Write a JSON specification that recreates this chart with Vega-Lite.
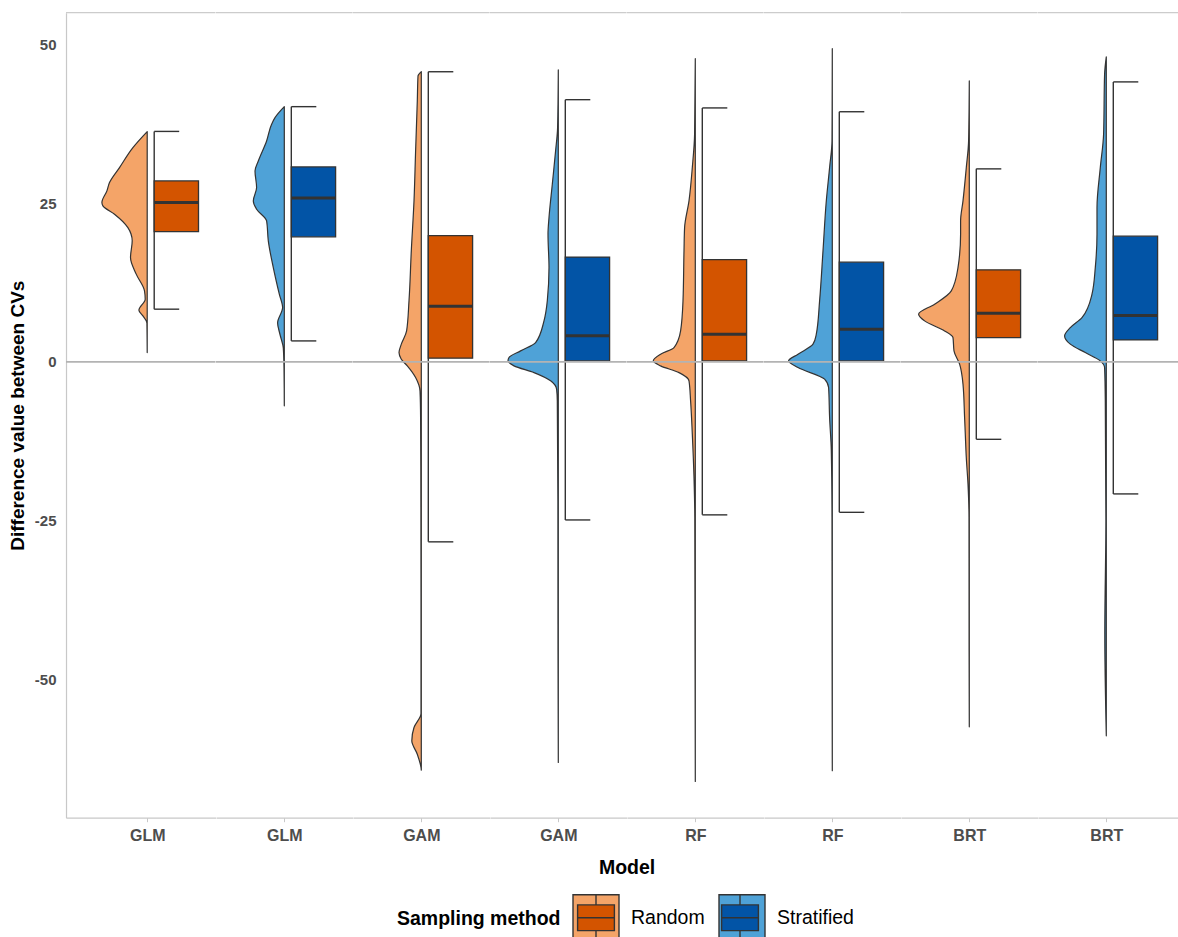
{
"$schema": "https://vega.github.io/schema/vega-lite/v6.json",
"autosize": {"type": "pad"},
"padding": {"left": 8, "top": 11.7, "right": 0, "bottom": 0},
"background": "white",
"spacing": 0,
"bounds": "flush",
"resolve": {"scale": {"x": "independent", "y": "independent", "color": "shared", "fill": "shared"}, "axis": {"x": "independent", "y": "independent"}},
"config": {"view": {"stroke": null}, "font": "Liberation Sans"},
"hconcat": [
{
 "width": 149.5, "height": 805,
 "data": {"values": [{"method": "Random", "lower": 8.3, "q1": 20.5, "med": 25.1, "q3": 28.5, "upper": 36.3}]},
 "layer": [
  {"data": {"values": [
    {"val": 36.27, "dens": 0, "method": "Random"},{"val": 33.75, "dens": 0.286, "method": "Random"},{"val": 30.6, "dens": 0.554, "method": "Random"},{"val": 28.24, "dens": 0.754, "method": "Random"},{"val": 26.93, "dens": 0.806, "method": "Random"},{"val": 25.09, "dens": 0.906, "method": "Random"},{"val": 24.57, "dens": 0.886, "method": "Random"},{"val": 23.26, "dens": 0.654, "method": "Random"},{"val": 21.15, "dens": 0.386, "method": "Random"},{"val": 19.06, "dens": 0.3, "method": "Random"},{"val": 16.43, "dens": 0.334, "method": "Random"},{"val": 13.82, "dens": 0.22, "method": "Random"},{"val": 11.18, "dens": 0.054, "method": "Random"},{"val": 9.87, "dens": 0.04, "method": "Random"},{"val": 8.14, "dens": 0.166, "method": "Random"},{"val": 7.24, "dens": 0.086, "method": "Random"},{"val": 6.14, "dens": 0.006, "method": "Random"},{"val": 1.46, "dens": 0, "method": "Random"}]},
   "mark": {"type": "area", "orient": "horizontal", "interpolate": "monotone", "stroke": "#333333", "strokeWidth": 1.2, "strokeJoin": "round"},
   "encoding": {
    "y": {"field": "val", "type": "quantitative", "scale": {"domain": [-71.8, 55], "nice": false, "zero": false},
      "axis": {"values": [-50, -25, 0, 25, 50], "labelExpr": "'' + datum.value", "title": "Difference value between CVs", "titleFontSize": 19, "titleFontWeight": "bold", "titleColor": "#000000", "titlePadding": 7, "labelFontSize": 15, "labelFontWeight": "bold", "labelColor": "#4d4d4d", "labelPadding": 10, "ticks": false, "domainColor": "#c8c8c8", "domainWidth": 1.2, "grid": false}},
    "x": {"field": "dens", "type": "quantitative", "scale": {"domain": [-1.366, 1.624], "reverse": true, "nice": false, "zero": false},
      "axis": {"values": [0], "labelExpr": "'GLM'", "title": null, "domainColor": "#c8c8c8", "domainWidth": 1.2, "tickColor": "#c8c8c8", "tickSize": 4, "labelFontSize": 16, "labelFontWeight": "bold", "labelColor": "#4d4d4d", "labelPadding": 6, "grid": false}},
    "x2": {"datum": 0},
    "color": {"field": "method", "type": "nominal", "scale": {"domain": ["Random", "Stratified"], "range": ["#F4A468", "#4FA2D7"]},
      "legend": {"title": "Sampling method", "orient": "none", "legendX": 331, "legendY": 881, "direction": "horizontal", "titleOrient": "left", "titleFontSize": 19.5, "titleFontWeight": "bold", "titleColor": "#000000", "titlePadding": 11, "titleBaseline": "middle", "labelFontSize": 19.5, "labelColor": "#000000", "labelOffset": 11, "columnPadding": 11, "symbolType": "square", "symbolSize": 2116, "symbolStrokeColor": "#333333", "symbolStrokeWidth": 1.4, "symbolOpacity": 1, "zindex": 1}}
   }},
  {"mark": {"type": "rule", "stroke": "#333333", "strokeWidth": 1.4},
   "encoding": {"x": {"datum": -0.14, "type": "quantitative", "scale": {"domain": [-1.366, 1.624], "reverse": true, "nice": false, "zero": false}},
     "y": {"field": "lower", "type": "quantitative", "scale": {"domain": [-71.8, 55], "nice": false, "zero": false}}, "y2": {"field": "upper"}}},
  {"mark": {"type": "rule", "stroke": "#333333", "strokeWidth": 1.4},
   "encoding": {"x": {"datum": -0.14, "type": "quantitative", "scale": {"domain": [-1.366, 1.624], "reverse": true, "nice": false, "zero": false}}, "x2": {"datum": -0.64},
     "y": {"field": "upper", "type": "quantitative", "scale": {"domain": [-71.8, 55], "nice": false, "zero": false}}}},
  {"mark": {"type": "rule", "stroke": "#333333", "strokeWidth": 1.4},
   "encoding": {"x": {"datum": -0.14, "type": "quantitative", "scale": {"domain": [-1.366, 1.624], "reverse": true, "nice": false, "zero": false}}, "x2": {"datum": -0.64},
     "y": {"field": "lower", "type": "quantitative", "scale": {"domain": [-71.8, 55], "nice": false, "zero": false}}}},
  {"mark": {"type": "rect", "stroke": "#333333", "strokeWidth": 1.3},
   "encoding": {"x": {"datum": -0.14, "type": "quantitative", "scale": {"domain": [-1.366, 1.624], "reverse": true, "nice": false, "zero": false}}, "x2": {"datum": -1.026},
     "y": {"field": "q1", "type": "quantitative", "scale": {"domain": [-71.8, 55], "nice": false, "zero": false}}, "y2": {"field": "q3"},
     "fill": {"field": "method", "type": "nominal", "scale": {"range": ["#D35400", "#0254A6"]},
       "legend": {"title": "Sampling method", "orient": "none", "legendX": 331, "legendY": 881, "direction": "horizontal", "titleOrient": "left", "titleFontSize": 19.5, "titleFontWeight": "bold", "titleColor": "#000000", "titlePadding": 11, "titleBaseline": "middle", "titleOpacity": 0, "labelFontSize": 19.5, "labelColor": "#000000", "labelOpacity": 0, "labelOffset": 11, "columnPadding": 11, "symbolType": "M-0.8,-0.56H0.8V0.56H-0.8Z M-0.8,0H0.8 M0,-1V-0.56 M0,0.56V1", "symbolSize": 2116, "symbolStrokeColor": "#333333", "symbolStrokeWidth": 1.4, "symbolOpacity": 1, "zindex": 2}}}},
  {"mark": {"type": "rule", "stroke": "#333333", "strokeWidth": 3},
   "encoding": {"x": {"datum": -0.14, "type": "quantitative", "scale": {"domain": [-1.366, 1.624], "reverse": true, "nice": false, "zero": false}}, "x2": {"datum": -1.026},
     "y": {"field": "med", "type": "quantitative", "scale": {"domain": [-71.8, 55], "nice": false, "zero": false}}}},
  {"mark": {"type": "rule", "stroke": "#b3b3b3", "strokeWidth": 1.6},
   "encoding": {"y": {"datum": 0, "type": "quantitative", "scale": {"domain": [-71.8, 55], "nice": false, "zero": false}}}},
  {"mark": {"type": "rule", "stroke": "#cccccc", "strokeWidth": 1.2},
   "encoding": {"y": {"datum": 55, "type": "quantitative", "scale": {"domain": [-71.8, 55], "nice": false, "zero": false}}}}
 ]
},
{
 "width": 136.6, "height": 805,
 "data": {"values": [{"method": "Stratified", "lower": 3.3, "q1": 19.7, "med": 25.8, "q3": 30.7, "upper": 40.2}]},
 "layer": [
  {"data": {"values": [
    {"val": 40.2, "dens": 0, "method": "Stratified"},{"val": 38.47, "dens": 0.186, "method": "Stratified"},{"val": 37.43, "dens": 0.254, "method": "Stratified"},{"val": 34.8, "dens": 0.354, "method": "Stratified"},{"val": 31.65, "dens": 0.52, "method": "Stratified"},{"val": 30.08, "dens": 0.586, "method": "Stratified"},{"val": 27.45, "dens": 0.554, "method": "Stratified"},{"val": 25.35, "dens": 0.62, "method": "Stratified"},{"val": 24.05, "dens": 0.554, "method": "Stratified"},{"val": 22.2, "dens": 0.354, "method": "Stratified"},{"val": 19.06, "dens": 0.32, "method": "Stratified"},{"val": 14.85, "dens": 0.22, "method": "Stratified"},{"val": 10.66, "dens": 0.1, "method": "Stratified"},{"val": 8.55, "dens": 0.034, "method": "Stratified"},{"val": 6.14, "dens": 0.134, "method": "Stratified"},{"val": 4.31, "dens": 0.086, "method": "Stratified"},{"val": 2.2, "dens": 0.02, "method": "Stratified"},{"val": -0.9, "dens": 0.006, "method": "Stratified"},{"val": -6.93, "dens": 0, "method": "Stratified"}]},
   "mark": {"type": "area", "orient": "horizontal", "interpolate": "monotone", "stroke": "#333333", "strokeWidth": 1.2, "strokeJoin": "round"},
   "encoding": {
    "y": {"field": "val", "type": "quantitative", "scale": {"domain": [-71.8, 55], "nice": false, "zero": false}, "axis": null},
    "x": {"field": "dens", "type": "quantitative", "scale": {"domain": [-1.366, 1.366], "reverse": true, "nice": false, "zero": false},
      "axis": {"values": [0], "labelExpr": "'GLM'", "title": null, "domainColor": "#c8c8c8", "domainWidth": 1.2, "tickColor": "#c8c8c8", "tickSize": 4, "labelFontSize": 16, "labelFontWeight": "bold", "labelColor": "#4d4d4d", "labelPadding": 6, "grid": false}},
    "x2": {"datum": 0},
    "color": {"field": "method", "type": "nominal", "scale": {"domain": ["Random", "Stratified"], "range": ["#F4A468", "#4FA2D7"]}}
   }},
  {"mark": {"type": "rule", "stroke": "#333333", "strokeWidth": 1.4},
   "encoding": {"x": {"datum": -0.14, "type": "quantitative", "scale": {"domain": [-1.366, 1.366], "reverse": true, "nice": false, "zero": false}},
     "y": {"field": "lower", "type": "quantitative", "scale": {"domain": [-71.8, 55], "nice": false, "zero": false}}, "y2": {"field": "upper"}}},
  {"mark": {"type": "rule", "stroke": "#333333", "strokeWidth": 1.4},
   "encoding": {"x": {"datum": -0.14, "type": "quantitative", "scale": {"domain": [-1.366, 1.366], "reverse": true, "nice": false, "zero": false}}, "x2": {"datum": -0.64},
     "y": {"field": "upper", "type": "quantitative", "scale": {"domain": [-71.8, 55], "nice": false, "zero": false}}}},
  {"mark": {"type": "rule", "stroke": "#333333", "strokeWidth": 1.4},
   "encoding": {"x": {"datum": -0.14, "type": "quantitative", "scale": {"domain": [-1.366, 1.366], "reverse": true, "nice": false, "zero": false}}, "x2": {"datum": -0.64},
     "y": {"field": "lower", "type": "quantitative", "scale": {"domain": [-71.8, 55], "nice": false, "zero": false}}}},
  {"mark": {"type": "rect", "stroke": "#333333", "strokeWidth": 1.3},
   "encoding": {"x": {"datum": -0.14, "type": "quantitative", "scale": {"domain": [-1.366, 1.366], "reverse": true, "nice": false, "zero": false}}, "x2": {"datum": -1.026},
     "y": {"field": "q1", "type": "quantitative", "scale": {"domain": [-71.8, 55], "nice": false, "zero": false}}, "y2": {"field": "q3"},
     "fill": {"field": "method", "type": "nominal", "scale": {"range": ["#D35400", "#0254A6"]}}}},
  {"mark": {"type": "rule", "stroke": "#333333", "strokeWidth": 3},
   "encoding": {"x": {"datum": -0.14, "type": "quantitative", "scale": {"domain": [-1.366, 1.366], "reverse": true, "nice": false, "zero": false}}, "x2": {"datum": -1.026},
     "y": {"field": "med", "type": "quantitative", "scale": {"domain": [-71.8, 55], "nice": false, "zero": false}}}},
  {"mark": {"type": "rule", "stroke": "#b3b3b3", "strokeWidth": 1.6},
   "encoding": {"y": {"datum": 0, "type": "quantitative", "scale": {"domain": [-71.8, 55], "nice": false, "zero": false}}}},
  {"mark": {"type": "rule", "stroke": "#cccccc", "strokeWidth": 1.2},
   "encoding": {"y": {"datum": 55, "type": "quantitative", "scale": {"domain": [-71.8, 55], "nice": false, "zero": false}}}}
 ]
},
{
 "width": 136.6, "height": 805,
 "data": {"values": [{"method": "Random", "lower": -28.35, "q1": 0.58, "med": 8.77, "q3": 19.9, "upper": 45.7}]},
 "layer": [
  {"data": {"values": [
    {"val": 45.72, "dens": 0, "method": "Random"},{"val": 45.04, "dens": 0.066, "method": "Random"},{"val": 41.1, "dens": 0.08, "method": "Random"},{"val": 33.23, "dens": 0.114, "method": "Random"},{"val": 25.35, "dens": 0.146, "method": "Random"},{"val": 17.48, "dens": 0.2, "method": "Random"},{"val": 9.61, "dens": 0.246, "method": "Random"},{"val": 4.88, "dens": 0.294, "method": "Random"},{"val": 2.79, "dens": 0.4, "method": "Random"},{"val": 1.46, "dens": 0.446, "method": "Random"},{"val": 0.42, "dens": 0.4, "method": "Random"},{"val": -0.63, "dens": 0.28, "method": "Random"},{"val": -2.47, "dens": 0.114, "method": "Random"},{"val": -4.57, "dens": 0.026, "method": "Random"},{"val": -8.77, "dens": 0.014, "method": "Random"},{"val": -21.9, "dens": 0.008, "method": "Random"},{"val": -37.6, "dens": 0.006, "method": "Random"},{"val": -55.4, "dens": 0.006, "method": "Random"},{"val": -57.6, "dens": 0.146, "method": "Random"},{"val": -59.7, "dens": 0.19, "method": "Random"},{"val": -61.8, "dens": 0.08, "method": "Random"},{"val": -63.9, "dens": 0.006, "method": "Random"},{"val": -64.3, "dens": 0, "method": "Random"}]},
   "mark": {"type": "area", "orient": "horizontal", "interpolate": "monotone", "stroke": "#333333", "strokeWidth": 1.2, "strokeJoin": "round"},
   "encoding": {
    "y": {"field": "val", "type": "quantitative", "scale": {"domain": [-71.8, 55], "nice": false, "zero": false}, "axis": null},
    "x": {"field": "dens", "type": "quantitative", "scale": {"domain": [-1.366, 1.366], "reverse": true, "nice": false, "zero": false},
      "axis": {"values": [0], "labelExpr": "'GAM'", "title": null, "domainColor": "#c8c8c8", "domainWidth": 1.2, "tickColor": "#c8c8c8", "tickSize": 4, "labelFontSize": 16, "labelFontWeight": "bold", "labelColor": "#4d4d4d", "labelPadding": 6, "grid": false}},
    "x2": {"datum": 0},
    "color": {"field": "method", "type": "nominal", "scale": {"domain": ["Random", "Stratified"], "range": ["#F4A468", "#4FA2D7"]}}
   }},
  {"mark": {"type": "rule", "stroke": "#333333", "strokeWidth": 1.4},
   "encoding": {"x": {"datum": -0.14, "type": "quantitative", "scale": {"domain": [-1.366, 1.366], "reverse": true, "nice": false, "zero": false}},
     "y": {"field": "lower", "type": "quantitative", "scale": {"domain": [-71.8, 55], "nice": false, "zero": false}}, "y2": {"field": "upper"}}},
  {"mark": {"type": "rule", "stroke": "#333333", "strokeWidth": 1.4},
   "encoding": {"x": {"datum": -0.14, "type": "quantitative", "scale": {"domain": [-1.366, 1.366], "reverse": true, "nice": false, "zero": false}}, "x2": {"datum": -0.64},
     "y": {"field": "upper", "type": "quantitative", "scale": {"domain": [-71.8, 55], "nice": false, "zero": false}}}},
  {"mark": {"type": "rule", "stroke": "#333333", "strokeWidth": 1.4},
   "encoding": {"x": {"datum": -0.14, "type": "quantitative", "scale": {"domain": [-1.366, 1.366], "reverse": true, "nice": false, "zero": false}}, "x2": {"datum": -0.64},
     "y": {"field": "lower", "type": "quantitative", "scale": {"domain": [-71.8, 55], "nice": false, "zero": false}}}},
  {"mark": {"type": "rect", "stroke": "#333333", "strokeWidth": 1.3},
   "encoding": {"x": {"datum": -0.14, "type": "quantitative", "scale": {"domain": [-1.366, 1.366], "reverse": true, "nice": false, "zero": false}}, "x2": {"datum": -1.026},
     "y": {"field": "q1", "type": "quantitative", "scale": {"domain": [-71.8, 55], "nice": false, "zero": false}}, "y2": {"field": "q3"},
     "fill": {"field": "method", "type": "nominal", "scale": {"range": ["#D35400", "#0254A6"]}}}},
  {"mark": {"type": "rule", "stroke": "#333333", "strokeWidth": 3},
   "encoding": {"x": {"datum": -0.14, "type": "quantitative", "scale": {"domain": [-1.366, 1.366], "reverse": true, "nice": false, "zero": false}}, "x2": {"datum": -1.026},
     "y": {"field": "med", "type": "quantitative", "scale": {"domain": [-71.8, 55], "nice": false, "zero": false}}}},
  {"mark": {"type": "rule", "stroke": "#b3b3b3", "strokeWidth": 1.6},
   "encoding": {"y": {"datum": 0, "type": "quantitative", "scale": {"domain": [-71.8, 55], "nice": false, "zero": false}}}},
  {"mark": {"type": "rule", "stroke": "#cccccc", "strokeWidth": 1.2},
   "encoding": {"y": {"datum": 55, "type": "quantitative", "scale": {"domain": [-71.8, 55], "nice": false, "zero": false}}}}
 ]
},
{
 "width": 136.6, "height": 805,
 "data": {"values": [{"method": "Stratified", "lower": -24.9, "q1": 0.16, "med": 4.1, "q3": 16.5, "upper": 41.3}]},
 "layer": [
  {"data": {"values": [
    {"val": 45.98, "dens": 0, "method": "Stratified"},{"val": 36.9, "dens": 0.014, "method": "Stratified"},{"val": 33.23, "dens": 0.054, "method": "Stratified"},{"val": 27.98, "dens": 0.12, "method": "Stratified"},{"val": 22.72, "dens": 0.186, "method": "Stratified"},{"val": 20.11, "dens": 0.206, "method": "Stratified"},{"val": 14.85, "dens": 0.186, "method": "Stratified"},{"val": 9.61, "dens": 0.22, "method": "Stratified"},{"val": 6.46, "dens": 0.286, "method": "Stratified"},{"val": 3.04, "dens": 0.454, "method": "Stratified"},{"val": 1.73, "dens": 0.754, "method": "Stratified"},{"val": 0.68, "dens": 0.986, "method": "Stratified"},{"val": 0.16, "dens": 1.006, "method": "Stratified"},{"val": -0.63, "dens": 0.886, "method": "Stratified"},{"val": -1.69, "dens": 0.486, "method": "Stratified"},{"val": -2.99, "dens": 0.154, "method": "Stratified"},{"val": -4.3, "dens": 0.034, "method": "Stratified"},{"val": -6.14, "dens": 0.02, "method": "Stratified"},{"val": -21.9, "dens": 0.008, "method": "Stratified"},{"val": -45.5, "dens": 0.006, "method": "Stratified"},{"val": -63.1, "dens": 0, "method": "Stratified"}]},
   "mark": {"type": "area", "orient": "horizontal", "interpolate": "monotone", "stroke": "#333333", "strokeWidth": 1.2, "strokeJoin": "round"},
   "encoding": {
    "y": {"field": "val", "type": "quantitative", "scale": {"domain": [-71.8, 55], "nice": false, "zero": false}, "axis": null},
    "x": {"field": "dens", "type": "quantitative", "scale": {"domain": [-1.366, 1.366], "reverse": true, "nice": false, "zero": false},
      "axis": {"values": [0], "labelExpr": "'GAM'", "title": "Model", "titleX": 136.6, "titleY": 56, "titleAlign": "center", "titleBaseline": "alphabetic", "titleFontSize": 19.5, "titleFontWeight": "bold", "titleColor": "#000000", "domainColor": "#c8c8c8", "domainWidth": 1.2, "tickColor": "#c8c8c8", "tickSize": 4, "labelFontSize": 16, "labelFontWeight": "bold", "labelColor": "#4d4d4d", "labelPadding": 6, "grid": false}},
    "x2": {"datum": 0},
    "color": {"field": "method", "type": "nominal", "scale": {"domain": ["Random", "Stratified"], "range": ["#F4A468", "#4FA2D7"]}}
   }},
  {"mark": {"type": "rule", "stroke": "#333333", "strokeWidth": 1.4},
   "encoding": {"x": {"datum": -0.14, "type": "quantitative", "scale": {"domain": [-1.366, 1.366], "reverse": true, "nice": false, "zero": false}},
     "y": {"field": "lower", "type": "quantitative", "scale": {"domain": [-71.8, 55], "nice": false, "zero": false}}, "y2": {"field": "upper"}}},
  {"mark": {"type": "rule", "stroke": "#333333", "strokeWidth": 1.4},
   "encoding": {"x": {"datum": -0.14, "type": "quantitative", "scale": {"domain": [-1.366, 1.366], "reverse": true, "nice": false, "zero": false}}, "x2": {"datum": -0.64},
     "y": {"field": "upper", "type": "quantitative", "scale": {"domain": [-71.8, 55], "nice": false, "zero": false}}}},
  {"mark": {"type": "rule", "stroke": "#333333", "strokeWidth": 1.4},
   "encoding": {"x": {"datum": -0.14, "type": "quantitative", "scale": {"domain": [-1.366, 1.366], "reverse": true, "nice": false, "zero": false}}, "x2": {"datum": -0.64},
     "y": {"field": "lower", "type": "quantitative", "scale": {"domain": [-71.8, 55], "nice": false, "zero": false}}}},
  {"mark": {"type": "rect", "stroke": "#333333", "strokeWidth": 1.3},
   "encoding": {"x": {"datum": -0.14, "type": "quantitative", "scale": {"domain": [-1.366, 1.366], "reverse": true, "nice": false, "zero": false}}, "x2": {"datum": -1.026},
     "y": {"field": "q1", "type": "quantitative", "scale": {"domain": [-71.8, 55], "nice": false, "zero": false}}, "y2": {"field": "q3"},
     "fill": {"field": "method", "type": "nominal", "scale": {"range": ["#D35400", "#0254A6"]}}}},
  {"mark": {"type": "rule", "stroke": "#333333", "strokeWidth": 3},
   "encoding": {"x": {"datum": -0.14, "type": "quantitative", "scale": {"domain": [-1.366, 1.366], "reverse": true, "nice": false, "zero": false}}, "x2": {"datum": -1.026},
     "y": {"field": "med", "type": "quantitative", "scale": {"domain": [-71.8, 55], "nice": false, "zero": false}}}},
  {"mark": {"type": "rule", "stroke": "#b3b3b3", "strokeWidth": 1.6},
   "encoding": {"y": {"datum": 0, "type": "quantitative", "scale": {"domain": [-71.8, 55], "nice": false, "zero": false}}}},
  {"mark": {"type": "rule", "stroke": "#cccccc", "strokeWidth": 1.2},
   "encoding": {"y": {"datum": 55, "type": "quantitative", "scale": {"domain": [-71.8, 55], "nice": false, "zero": false}}}}
 ]
},
{
 "width": 136.6, "height": 805,
 "data": {"values": [{"method": "Random", "lower": -24.1, "q1": 0.16, "med": 4.36, "q3": 16.1, "upper": 40.0}]},
 "layer": [
  {"data": {"values": [
    {"val": 47.76, "dens": 0, "method": "Random"},{"val": 35.86, "dens": 0.014, "method": "Random"},{"val": 30.6, "dens": 0.06, "method": "Random"},{"val": 25.35, "dens": 0.126, "method": "Random"},{"val": 21.15, "dens": 0.214, "method": "Random"},{"val": 17.48, "dens": 0.226, "method": "Random"},{"val": 9.61, "dens": 0.246, "method": "Random"},{"val": 4.88, "dens": 0.294, "method": "Random"},{"val": 2.25, "dens": 0.426, "method": "Random"},{"val": 1.21, "dens": 0.694, "method": "Random"},{"val": 0.16, "dens": 0.84, "method": "Random"},{"val": -0.63, "dens": 0.694, "method": "Random"},{"val": -1.69, "dens": 0.326, "method": "Random"},{"val": -2.99, "dens": 0.126, "method": "Random"},{"val": -6.14, "dens": 0.094, "method": "Random"},{"val": -11.34, "dens": 0.06, "method": "Random"},{"val": -18.2, "dens": 0.026, "method": "Random"},{"val": -24.5, "dens": 0.01, "method": "Random"},{"val": -45.5, "dens": 0.005, "method": "Random"},{"val": -66.1, "dens": 0, "method": "Random"}]},
   "mark": {"type": "area", "orient": "horizontal", "interpolate": "monotone", "stroke": "#333333", "strokeWidth": 1.2, "strokeJoin": "round"},
   "encoding": {
    "y": {"field": "val", "type": "quantitative", "scale": {"domain": [-71.8, 55], "nice": false, "zero": false}, "axis": null},
    "x": {"field": "dens", "type": "quantitative", "scale": {"domain": [-1.366, 1.366], "reverse": true, "nice": false, "zero": false},
      "axis": {"values": [0], "labelExpr": "'RF'", "title": null, "domainColor": "#c8c8c8", "domainWidth": 1.2, "tickColor": "#c8c8c8", "tickSize": 4, "labelFontSize": 16, "labelFontWeight": "bold", "labelColor": "#4d4d4d", "labelPadding": 6, "grid": false}},
    "x2": {"datum": 0},
    "color": {"field": "method", "type": "nominal", "scale": {"domain": ["Random", "Stratified"], "range": ["#F4A468", "#4FA2D7"]}}
   }},
  {"mark": {"type": "rule", "stroke": "#333333", "strokeWidth": 1.4},
   "encoding": {"x": {"datum": -0.14, "type": "quantitative", "scale": {"domain": [-1.366, 1.366], "reverse": true, "nice": false, "zero": false}},
     "y": {"field": "lower", "type": "quantitative", "scale": {"domain": [-71.8, 55], "nice": false, "zero": false}}, "y2": {"field": "upper"}}},
  {"mark": {"type": "rule", "stroke": "#333333", "strokeWidth": 1.4},
   "encoding": {"x": {"datum": -0.14, "type": "quantitative", "scale": {"domain": [-1.366, 1.366], "reverse": true, "nice": false, "zero": false}}, "x2": {"datum": -0.64},
     "y": {"field": "upper", "type": "quantitative", "scale": {"domain": [-71.8, 55], "nice": false, "zero": false}}}},
  {"mark": {"type": "rule", "stroke": "#333333", "strokeWidth": 1.4},
   "encoding": {"x": {"datum": -0.14, "type": "quantitative", "scale": {"domain": [-1.366, 1.366], "reverse": true, "nice": false, "zero": false}}, "x2": {"datum": -0.64},
     "y": {"field": "lower", "type": "quantitative", "scale": {"domain": [-71.8, 55], "nice": false, "zero": false}}}},
  {"mark": {"type": "rect", "stroke": "#333333", "strokeWidth": 1.3},
   "encoding": {"x": {"datum": -0.14, "type": "quantitative", "scale": {"domain": [-1.366, 1.366], "reverse": true, "nice": false, "zero": false}}, "x2": {"datum": -1.026},
     "y": {"field": "q1", "type": "quantitative", "scale": {"domain": [-71.8, 55], "nice": false, "zero": false}}, "y2": {"field": "q3"},
     "fill": {"field": "method", "type": "nominal", "scale": {"range": ["#D35400", "#0254A6"]}}}},
  {"mark": {"type": "rule", "stroke": "#333333", "strokeWidth": 3},
   "encoding": {"x": {"datum": -0.14, "type": "quantitative", "scale": {"domain": [-1.366, 1.366], "reverse": true, "nice": false, "zero": false}}, "x2": {"datum": -1.026},
     "y": {"field": "med", "type": "quantitative", "scale": {"domain": [-71.8, 55], "nice": false, "zero": false}}}},
  {"mark": {"type": "rule", "stroke": "#b3b3b3", "strokeWidth": 1.6},
   "encoding": {"y": {"datum": 0, "type": "quantitative", "scale": {"domain": [-71.8, 55], "nice": false, "zero": false}}}},
  {"mark": {"type": "rule", "stroke": "#cccccc", "strokeWidth": 1.2},
   "encoding": {"y": {"datum": 55, "type": "quantitative", "scale": {"domain": [-71.8, 55], "nice": false, "zero": false}}}}
 ]
},
{
 "width": 136.6, "height": 805,
 "data": {"values": [{"method": "Stratified", "lower": -23.7, "q1": 0.16, "med": 5.15, "q3": 15.7, "upper": 39.4}]},
 "layer": [
  {"data": {"values": [
    {"val": 49.34, "dens": 0, "method": "Stratified"},{"val": 34.8, "dens": 0.006, "method": "Stratified"},{"val": 30.6, "dens": 0.054, "method": "Stratified"},{"val": 25.35, "dens": 0.12, "method": "Stratified"},{"val": 17.48, "dens": 0.186, "method": "Stratified"},{"val": 9.61, "dens": 0.254, "method": "Stratified"},{"val": 4.36, "dens": 0.32, "method": "Stratified"},{"val": 2.79, "dens": 0.386, "method": "Stratified"},{"val": 1.21, "dens": 0.686, "method": "Stratified"},{"val": 0.16, "dens": 0.874, "method": "Stratified"},{"val": -0.9, "dens": 0.686, "method": "Stratified"},{"val": -2.72, "dens": 0.154, "method": "Stratified"},{"val": -4.05, "dens": 0.074, "method": "Stratified"},{"val": -8.77, "dens": 0.054, "method": "Stratified"},{"val": -14.0, "dens": 0.02, "method": "Stratified"},{"val": -24.5, "dens": 0.006, "method": "Stratified"},{"val": -45.5, "dens": 0.004, "method": "Stratified"},{"val": -64.4, "dens": 0, "method": "Stratified"}]},
   "mark": {"type": "area", "orient": "horizontal", "interpolate": "monotone", "stroke": "#333333", "strokeWidth": 1.2, "strokeJoin": "round"},
   "encoding": {
    "y": {"field": "val", "type": "quantitative", "scale": {"domain": [-71.8, 55], "nice": false, "zero": false}, "axis": null},
    "x": {"field": "dens", "type": "quantitative", "scale": {"domain": [-1.366, 1.366], "reverse": true, "nice": false, "zero": false},
      "axis": {"values": [0], "labelExpr": "'RF'", "title": null, "domainColor": "#c8c8c8", "domainWidth": 1.2, "tickColor": "#c8c8c8", "tickSize": 4, "labelFontSize": 16, "labelFontWeight": "bold", "labelColor": "#4d4d4d", "labelPadding": 6, "grid": false}},
    "x2": {"datum": 0},
    "color": {"field": "method", "type": "nominal", "scale": {"domain": ["Random", "Stratified"], "range": ["#F4A468", "#4FA2D7"]}}
   }},
  {"mark": {"type": "rule", "stroke": "#333333", "strokeWidth": 1.4},
   "encoding": {"x": {"datum": -0.14, "type": "quantitative", "scale": {"domain": [-1.366, 1.366], "reverse": true, "nice": false, "zero": false}},
     "y": {"field": "lower", "type": "quantitative", "scale": {"domain": [-71.8, 55], "nice": false, "zero": false}}, "y2": {"field": "upper"}}},
  {"mark": {"type": "rule", "stroke": "#333333", "strokeWidth": 1.4},
   "encoding": {"x": {"datum": -0.14, "type": "quantitative", "scale": {"domain": [-1.366, 1.366], "reverse": true, "nice": false, "zero": false}}, "x2": {"datum": -0.64},
     "y": {"field": "upper", "type": "quantitative", "scale": {"domain": [-71.8, 55], "nice": false, "zero": false}}}},
  {"mark": {"type": "rule", "stroke": "#333333", "strokeWidth": 1.4},
   "encoding": {"x": {"datum": -0.14, "type": "quantitative", "scale": {"domain": [-1.366, 1.366], "reverse": true, "nice": false, "zero": false}}, "x2": {"datum": -0.64},
     "y": {"field": "lower", "type": "quantitative", "scale": {"domain": [-71.8, 55], "nice": false, "zero": false}}}},
  {"mark": {"type": "rect", "stroke": "#333333", "strokeWidth": 1.3},
   "encoding": {"x": {"datum": -0.14, "type": "quantitative", "scale": {"domain": [-1.366, 1.366], "reverse": true, "nice": false, "zero": false}}, "x2": {"datum": -1.026},
     "y": {"field": "q1", "type": "quantitative", "scale": {"domain": [-71.8, 55], "nice": false, "zero": false}}, "y2": {"field": "q3"},
     "fill": {"field": "method", "type": "nominal", "scale": {"range": ["#D35400", "#0254A6"]}}}},
  {"mark": {"type": "rule", "stroke": "#333333", "strokeWidth": 3},
   "encoding": {"x": {"datum": -0.14, "type": "quantitative", "scale": {"domain": [-1.366, 1.366], "reverse": true, "nice": false, "zero": false}}, "x2": {"datum": -1.026},
     "y": {"field": "med", "type": "quantitative", "scale": {"domain": [-71.8, 55], "nice": false, "zero": false}}}},
  {"mark": {"type": "rule", "stroke": "#b3b3b3", "strokeWidth": 1.6},
   "encoding": {"y": {"datum": 0, "type": "quantitative", "scale": {"domain": [-71.8, 55], "nice": false, "zero": false}}}},
  {"mark": {"type": "rule", "stroke": "#cccccc", "strokeWidth": 1.2},
   "encoding": {"y": {"datum": 55, "type": "quantitative", "scale": {"domain": [-71.8, 55], "nice": false, "zero": false}}}}
 ]
},
{
 "width": 136.6, "height": 805,
 "data": {"values": [{"method": "Random", "lower": -12.2, "q1": 3.83, "med": 7.66, "q3": 14.5, "upper": 30.4}]},
 "layer": [
  {"data": {"values": [
    {"val": 44.25, "dens": 0, "method": "Random"},{"val": 34.8, "dens": 0.014, "method": "Random"},{"val": 30.6, "dens": 0.06, "method": "Random"},{"val": 25.35, "dens": 0.126, "method": "Random"},{"val": 22.2, "dens": 0.174, "method": "Random"},{"val": 20.11, "dens": 0.174, "method": "Random"},{"val": 14.85, "dens": 0.226, "method": "Random"},{"val": 11.18, "dens": 0.36, "method": "Random"},{"val": 9.08, "dens": 0.694, "method": "Random"},{"val": 7.51, "dens": 1.014, "method": "Random"},{"val": 6.46, "dens": 0.894, "method": "Random"},{"val": 4.88, "dens": 0.494, "method": "Random"},{"val": 3.83, "dens": 0.326, "method": "Random"},{"val": 1.73, "dens": 0.306, "method": "Random"},{"val": -0.36, "dens": 0.194, "method": "Random"},{"val": -3.51, "dens": 0.126, "method": "Random"},{"val": -8.77, "dens": 0.094, "method": "Random"},{"val": -11.39, "dens": 0.08, "method": "Random"},{"val": -15.07, "dens": 0.06, "method": "Random"},{"val": -19.26, "dens": 0.026, "method": "Random"},{"val": -24.5, "dens": 0.006, "method": "Random"},{"val": -45.5, "dens": 0.004, "method": "Random"},{"val": -57.48, "dens": 0, "method": "Random"}]},
   "mark": {"type": "area", "orient": "horizontal", "interpolate": "monotone", "stroke": "#333333", "strokeWidth": 1.2, "strokeJoin": "round"},
   "encoding": {
    "y": {"field": "val", "type": "quantitative", "scale": {"domain": [-71.8, 55], "nice": false, "zero": false}, "axis": null},
    "x": {"field": "dens", "type": "quantitative", "scale": {"domain": [-1.366, 1.366], "reverse": true, "nice": false, "zero": false},
      "axis": {"values": [0], "labelExpr": "'BRT'", "title": null, "domainColor": "#c8c8c8", "domainWidth": 1.2, "tickColor": "#c8c8c8", "tickSize": 4, "labelFontSize": 16, "labelFontWeight": "bold", "labelColor": "#4d4d4d", "labelPadding": 6, "grid": false}},
    "x2": {"datum": 0},
    "color": {"field": "method", "type": "nominal", "scale": {"domain": ["Random", "Stratified"], "range": ["#F4A468", "#4FA2D7"]}}
   }},
  {"mark": {"type": "rule", "stroke": "#333333", "strokeWidth": 1.4},
   "encoding": {"x": {"datum": -0.14, "type": "quantitative", "scale": {"domain": [-1.366, 1.366], "reverse": true, "nice": false, "zero": false}},
     "y": {"field": "lower", "type": "quantitative", "scale": {"domain": [-71.8, 55], "nice": false, "zero": false}}, "y2": {"field": "upper"}}},
  {"mark": {"type": "rule", "stroke": "#333333", "strokeWidth": 1.4},
   "encoding": {"x": {"datum": -0.14, "type": "quantitative", "scale": {"domain": [-1.366, 1.366], "reverse": true, "nice": false, "zero": false}}, "x2": {"datum": -0.64},
     "y": {"field": "upper", "type": "quantitative", "scale": {"domain": [-71.8, 55], "nice": false, "zero": false}}}},
  {"mark": {"type": "rule", "stroke": "#333333", "strokeWidth": 1.4},
   "encoding": {"x": {"datum": -0.14, "type": "quantitative", "scale": {"domain": [-1.366, 1.366], "reverse": true, "nice": false, "zero": false}}, "x2": {"datum": -0.64},
     "y": {"field": "lower", "type": "quantitative", "scale": {"domain": [-71.8, 55], "nice": false, "zero": false}}}},
  {"mark": {"type": "rect", "stroke": "#333333", "strokeWidth": 1.3},
   "encoding": {"x": {"datum": -0.14, "type": "quantitative", "scale": {"domain": [-1.366, 1.366], "reverse": true, "nice": false, "zero": false}}, "x2": {"datum": -1.026},
     "y": {"field": "q1", "type": "quantitative", "scale": {"domain": [-71.8, 55], "nice": false, "zero": false}}, "y2": {"field": "q3"},
     "fill": {"field": "method", "type": "nominal", "scale": {"range": ["#D35400", "#0254A6"]}}}},
  {"mark": {"type": "rule", "stroke": "#333333", "strokeWidth": 3},
   "encoding": {"x": {"datum": -0.14, "type": "quantitative", "scale": {"domain": [-1.366, 1.366], "reverse": true, "nice": false, "zero": false}}, "x2": {"datum": -1.026},
     "y": {"field": "med", "type": "quantitative", "scale": {"domain": [-71.8, 55], "nice": false, "zero": false}}}},
  {"mark": {"type": "rule", "stroke": "#b3b3b3", "strokeWidth": 1.6},
   "encoding": {"y": {"datum": 0, "type": "quantitative", "scale": {"domain": [-71.8, 55], "nice": false, "zero": false}}}},
  {"mark": {"type": "rule", "stroke": "#cccccc", "strokeWidth": 1.2},
   "encoding": {"y": {"datum": 55, "type": "quantitative", "scale": {"domain": [-71.8, 55], "nice": false, "zero": false}}}}
 ]
},
{
 "width": 141.9, "height": 805,
 "data": {"values": [{"method": "Stratified", "lower": -20.8, "q1": 3.46, "med": 7.3, "q3": 19.8, "upper": 44.1}]},
 "layer": [
  {"data": {"values": [
    {"val": 48.03, "dens": 0, "method": "Stratified"},{"val": 45.31, "dens": 0.034, "method": "Stratified"},{"val": 35.86, "dens": 0.054, "method": "Stratified"},{"val": 30.6, "dens": 0.12, "method": "Stratified"},{"val": 24.3, "dens": 0.186, "method": "Stratified"},{"val": 20.11, "dens": 0.186, "method": "Stratified"},{"val": 14.85, "dens": 0.22, "method": "Stratified"},{"val": 10.66, "dens": 0.286, "method": "Stratified"},{"val": 6.98, "dens": 0.486, "method": "Stratified"},{"val": 5.4, "dens": 0.72, "method": "Stratified"},{"val": 4.09, "dens": 0.834, "method": "Stratified"},{"val": 2.79, "dens": 0.72, "method": "Stratified"},{"val": 1.46, "dens": 0.42, "method": "Stratified"},{"val": 0.16, "dens": 0.12, "method": "Stratified"},{"val": -0.9, "dens": 0.034, "method": "Stratified"},{"val": -6.14, "dens": 0.02, "method": "Stratified"},{"val": -25.0, "dens": 0.008, "method": "Stratified"},{"val": -42.8, "dens": 0.03, "method": "Stratified"},{"val": -58.9, "dens": 0, "method": "Stratified"}]},
   "mark": {"type": "area", "orient": "horizontal", "interpolate": "monotone", "stroke": "#333333", "strokeWidth": 1.2, "strokeJoin": "round"},
   "encoding": {
    "y": {"field": "val", "type": "quantitative", "scale": {"domain": [-71.8, 55], "nice": false, "zero": false}, "axis": null},
    "x": {"field": "dens", "type": "quantitative", "scale": {"domain": [-1.472, 1.366], "reverse": true, "nice": false, "zero": false},
      "axis": {"values": [0], "labelExpr": "'BRT'", "title": null, "domainColor": "#c8c8c8", "domainWidth": 1.2, "tickColor": "#c8c8c8", "tickSize": 4, "labelFontSize": 16, "labelFontWeight": "bold", "labelColor": "#4d4d4d", "labelPadding": 6, "grid": false}},
    "x2": {"datum": 0},
    "color": {"field": "method", "type": "nominal", "scale": {"domain": ["Random", "Stratified"], "range": ["#F4A468", "#4FA2D7"]}}
   }},
  {"mark": {"type": "rule", "stroke": "#333333", "strokeWidth": 1.4},
   "encoding": {"x": {"datum": -0.14, "type": "quantitative", "scale": {"domain": [-1.472, 1.366], "reverse": true, "nice": false, "zero": false}},
     "y": {"field": "lower", "type": "quantitative", "scale": {"domain": [-71.8, 55], "nice": false, "zero": false}}, "y2": {"field": "upper"}}},
  {"mark": {"type": "rule", "stroke": "#333333", "strokeWidth": 1.4},
   "encoding": {"x": {"datum": -0.14, "type": "quantitative", "scale": {"domain": [-1.472, 1.366], "reverse": true, "nice": false, "zero": false}}, "x2": {"datum": -0.64},
     "y": {"field": "upper", "type": "quantitative", "scale": {"domain": [-71.8, 55], "nice": false, "zero": false}}}},
  {"mark": {"type": "rule", "stroke": "#333333", "strokeWidth": 1.4},
   "encoding": {"x": {"datum": -0.14, "type": "quantitative", "scale": {"domain": [-1.472, 1.366], "reverse": true, "nice": false, "zero": false}}, "x2": {"datum": -0.64},
     "y": {"field": "lower", "type": "quantitative", "scale": {"domain": [-71.8, 55], "nice": false, "zero": false}}}},
  {"mark": {"type": "rect", "stroke": "#333333", "strokeWidth": 1.3},
   "encoding": {"x": {"datum": -0.14, "type": "quantitative", "scale": {"domain": [-1.472, 1.366], "reverse": true, "nice": false, "zero": false}}, "x2": {"datum": -1.026},
     "y": {"field": "q1", "type": "quantitative", "scale": {"domain": [-71.8, 55], "nice": false, "zero": false}}, "y2": {"field": "q3"},
     "fill": {"field": "method", "type": "nominal", "scale": {"range": ["#D35400", "#0254A6"]}}}},
  {"mark": {"type": "rule", "stroke": "#333333", "strokeWidth": 3},
   "encoding": {"x": {"datum": -0.14, "type": "quantitative", "scale": {"domain": [-1.472, 1.366], "reverse": true, "nice": false, "zero": false}}, "x2": {"datum": -1.026},
     "y": {"field": "med", "type": "quantitative", "scale": {"domain": [-71.8, 55], "nice": false, "zero": false}}}},
  {"mark": {"type": "rule", "stroke": "#b3b3b3", "strokeWidth": 1.6},
   "encoding": {"y": {"datum": 0, "type": "quantitative", "scale": {"domain": [-71.8, 55], "nice": false, "zero": false}}}},
  {"mark": {"type": "rule", "stroke": "#cccccc", "strokeWidth": 1.2},
   "encoding": {"y": {"datum": 55, "type": "quantitative", "scale": {"domain": [-71.8, 55], "nice": false, "zero": false}}}}
 ]
}
]
}
